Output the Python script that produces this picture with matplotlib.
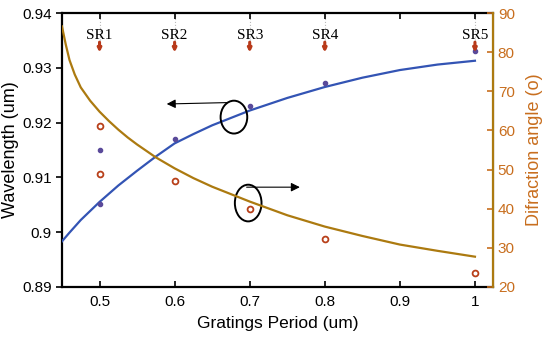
import numpy as np
import matplotlib
matplotlib.use('Agg')
import matplotlib.pyplot as plt
from matplotlib.patches import Ellipse

plt.rcParams['font.family'] = ['Liberation Sans', 'DejaVu Sans']

# Datos
periodo_pts = [0.5, 0.5, 0.6, 0.7, 0.8, 1.0]
lambda_pts = [0.9051, 0.9150, 0.9170, 0.9231, 0.9272, 0.9330]
angulo_pts = [61.2, 48.8, 47.1, 39.9, 32.2, 23.6]

# Curvas (muestras leidas)
periodo_lam = [0.45, 0.46, 0.475, 0.5, 0.525, 0.55, 0.575, 0.6, 0.625, 0.65, 0.7, 0.75,
               0.8, 0.85, 0.9, 0.95, 1.0]
lambda_curva = [0.8983, 0.8999, 0.9022, 0.9055, 0.9085, 0.9112, 0.9138, 0.9162, 0.9179,
                0.9195, 0.9222, 0.9245, 0.9265, 0.9282, 0.9296, 0.9306, 0.9313]
periodo_ang = [0.45, 0.455, 0.46, 0.467, 0.475, 0.4875, 0.5, 0.5125, 0.525, 0.5375, 0.55,
               0.575, 0.6, 0.625, 0.65, 0.7, 0.75, 0.8, 0.85, 0.9, 0.95, 1.0]
angulo_curva = [86.6, 82.0, 78.0, 74.3, 71.0, 67.6, 64.8, 62.4, 60.2, 58.2, 56.4,
                53.1, 50.3, 47.8, 45.6, 41.8, 38.3, 35.4, 33.0, 30.8, 29.2, 27.7]

sr_x = [0.5, 0.6, 0.7, 0.8, 1.0]
sr_labels = ['SR1', 'SR2', 'SR3', 'SR4', 'SR5']

azul = '#3354b4'
dorado = '#ac7a10'
naranja = '#c86e1e'

fig = plt.figure(figsize=(5.5, 3.41), dpi=100)
ax = fig.add_axes([0.1127, 0.159, 0.7836, 0.8025])
ax2 = ax.twinx()

ax.plot(periodo_lam, lambda_curva, color=azul, lw=1.6, zorder=3, solid_joinstyle='round')
ax.plot(periodo_pts, lambda_pts, 'o', color='#5a4a9a', ms=3, zorder=4)
ax2.plot(periodo_ang, angulo_curva, color=dorado, lw=1.6, zorder=3, solid_joinstyle='round')
ax2.plot(periodo_pts, angulo_pts, 'o', mfc='none', mec='#b8401a', mew=1.3, ms=4.2, zorder=4)

ax.set_xlim(0.45, 1.024)
ax.set_ylim(0.89, 0.94)
ax2.set_ylim(20, 90)
ax.set_xticks([0.5, 0.6, 0.7, 0.8, 0.9, 1.0])
ax.set_xticklabels(['0.5', '0.6', '0.7', '0.8', '0.9', '1'])
ax.set_yticks([0.89, 0.9, 0.91, 0.92, 0.93, 0.94])
ax.set_yticklabels(['0.89', '0.9', '0.91', '0.92', '0.93', '0.94'])
ax2.set_yticks([20, 30, 40, 50, 60, 70, 80, 90])

ax.tick_params(axis='x', direction='in', top=True, labelsize=11, length=4, width=1.2, pad=6)
ax.tick_params(axis='y', direction='out', labelsize=11, length=4, width=1.2)
ax2.tick_params(axis='y', direction='in', colors=naranja, labelsize=11, length=4, width=1.2)
for s in ['left', 'bottom', 'top']:
    ax.spines[s].set_linewidth(1.6)
ax2.spines['right'].set_color(dorado)
ax2.spines['right'].set_linewidth(1.6)
for s in ['left', 'bottom', 'top']:
    ax2.spines[s].set_visible(False)

ax.set_xlabel('Gratings Period (um)', fontsize=12.5, labelpad=5)
ax.set_ylabel('Wavelength (um)', fontsize=13, labelpad=2)
ax2.set_ylabel('Difraction angle (o)', fontsize=13, color=naranja, labelpad=8)

# Etiquetas SR con flechas rojas
for xs, lab in zip(sr_x, sr_labels):
    ax.axvline(xs, ymin=0.87, ymax=1.0, color='#bbbbbb', ls=':', lw=0.8, zorder=1)
    ax.text(xs, 0.9360, lab, ha='center', va='center', fontsize=11,
            family=['Liberation Serif', 'DejaVu Serif'], zorder=5)
    ax.annotate('', xy=(xs, 0.9323), xytext=(xs, 0.9352),
                arrowprops=dict(arrowstyle='-|>', color='#b83a1a', lw=2.2,
                                mutation_scale=5), zorder=5)

# Elipses y flechas
ax.add_patch(Ellipse((0.679, 0.9210), 0.0355, 0.0060, fill=False, ec='black', lw=1.4, zorder=6))
ax.annotate('', xy=(0.5895, 0.9234), xytext=(0.6693, 0.92365),
            arrowprops=dict(arrowstyle='-|>', color='black', lw=0.8,
                            mutation_scale=13, shrinkA=0, shrinkB=0))
ax.add_patch(Ellipse((0.698, 0.9053), 0.0355, 0.0067, fill=False, ec='black', lw=1.4, zorder=6))
ax.annotate('', xy=(0.7668, 0.9082), xytext=(0.6959, 0.9082),
            arrowprops=dict(arrowstyle='-|>', color='black', lw=0.8,
                            mutation_scale=13, shrinkA=0, shrinkB=0))

fig.savefig('out.png', dpi=100)
